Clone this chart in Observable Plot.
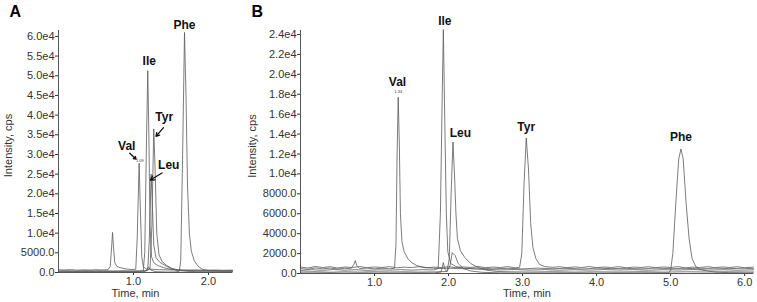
<!DOCTYPE html>
<html><head><meta charset="utf-8">
<script src="https://cdn.jsdelivr.net/npm/d3@7"></script>
<script src="https://cdn.jsdelivr.net/npm/@observablehq/plot@0.6"></script>
<style>
body{margin:0;background:#fff;}
#wrap{position:relative;width:757px;height:302px;background:#fff;}
#a{position:absolute;left:0;top:0;width:245px;}
#b{position:absolute;left:244px;top:0;width:513px;}
</style></head><body><div id="wrap"><div id="a"></div><div id="b"></div></div>
<script>
// ---------- Panel A data (time in min, intensity in cps) ----------
const valA = [[0.0,700],[0.08,650],[0.16,720],[0.25,600],[0.33,680],[0.42,620],[0.5,700],[0.58,640],[0.66,700],[0.69,1500],[0.71,7000],[0.72,10200],[0.735,6000],[0.75,2500],[0.78,1500],[0.83,1200],[0.9,900],[0.97,750],[1.03,800],[1.05,9000],[1.075,27800],[1.09,17000],[1.11,4000],[1.13,1500],[1.17,900],[1.25,800],[1.35,700],[1.5,650],[1.65,600],[1.8,650],[1.95,600],[2.1,620],[2.2,560],[2.32,600]];
const ileA = [[0.0,250],[0.1,300],[0.2,220],[0.3,280],[0.4,240],[0.5,300],[0.6,250],[0.7,290],[0.8,240],[0.9,300],[1.0,260],[1.08,300],[1.13,500],[1.15,5000],[1.17,30000],[1.19,51300],[1.205,35000],[1.22,12000],[1.24,4000],[1.27,2500],[1.32,1800],[1.4,1200],[1.5,800],[1.6,600],[1.75,450],[1.9,380],[2.05,350],[2.2,320],[2.32,300]];
const leuA = [[0.0,100],[0.15,120],[0.3,90],[0.45,130],[0.6,100],[0.75,120],[0.9,100],[1.05,130],[1.15,200],[1.19,800],[1.21,8000],[1.235,25000],[1.25,18000],[1.27,7000],[1.3,3800],[1.35,2600],[1.42,1800],[1.5,1000],[1.6,500],[1.75,250],[1.9,150],[2.1,120],[2.32,100]];
const tyrA = [[0.0,400],[0.12,450],[0.24,380],[0.36,460],[0.48,400],[0.6,440],[0.72,380],[0.84,450],[0.96,400],[1.08,430],[1.18,450],[1.22,1000],[1.245,12000],[1.27,36500],[1.29,25000],[1.31,10000],[1.34,4500],[1.38,2800],[1.44,1800],[1.52,1000],[1.6,650],[1.75,480],[1.9,420],[2.05,460],[2.2,400],[2.32,430]];
const pheA = [[0.0,50],[0.2,60],[0.4,40],[0.6,70],[0.8,50],[1.0,60],[1.12,80],[1.17,600],[1.2,1400],[1.23,600],[1.3,200],[1.45,120],[1.55,150],[1.61,300],[1.63,3000],[1.655,30000],[1.68,61000],[1.7,45000],[1.72,22000],[1.745,10000],[1.77,5500],[1.81,3000],[1.86,1600],[1.92,800],[2.0,500],[2.1,400],[2.2,450],[2.32,420]];
const labelsA = [{name:"Phe",t:1.68,v:62800},{name:"Ile",t:1.21,v:53600},{name:"Tyr",t:1.41,v:39400},{name:"Val",t:0.91,v:32000},{name:"Leu",t:1.47,v:27400}];
const arrowsA = [{t1:1.40,v1:36800,t2:1.30,v2:34600},{t1:0.95,v1:30300,t2:1.035,v2:28800},{t1:1.38,v1:25300,t2:1.225,v2:23500}];
const tinyA = [{name:"1.09",t:1.085,v:28300}];
const xTicksA = [1.0, 2.0];
const yTicksA = [0,5000,10000,15000,20000,25000,30000,35000,40000,45000,50000,55000,60000];

// ---------- Panel B data ----------
const valB = [[0.0,500],[0.1,420],[0.2,560],[0.3,470],[0.4,540],[0.5,450],[0.6,520],[0.68,480],[0.72,900],[0.74,1300],[0.76,800],[0.8,500],[0.9,540],[1.0,470],[1.1,530],[1.2,480],[1.27,520],[1.29,3000],[1.305,12000],[1.32,17700],[1.335,13000],[1.35,6000],[1.37,3200],[1.4,2200],[1.45,1500],[1.5,1100],[1.57,800],[1.65,650],[1.75,560],[1.85,500],[2.0,530],[2.2,480],[2.4,540],[2.6,470],[2.8,520],[3.0,460],[3.2,540],[3.4,480],[3.6,520],[3.8,450],[4.0,540],[4.2,490],[4.4,520],[4.6,460],[4.8,540],[5.0,480],[5.2,520],[5.4,470],[5.6,540],[5.8,490],[6.0,530],[6.12,480]];
const ileB = [[0.0,300],[0.15,380],[0.3,320],[0.45,400],[0.6,330],[0.75,380],[0.9,310],[1.05,370],[1.2,330],[1.35,390],[1.5,340],[1.65,380],[1.8,350],[1.86,500],[1.89,6000],[1.915,18000],[1.93,24500],[1.95,15000],[1.97,6000],[1.99,2200],[2.03,1000],[2.1,700],[2.2,550],[2.35,450],[2.5,400],[2.7,360],[2.9,400],[3.1,340],[3.3,390],[3.5,330],[3.7,380],[3.9,340],[4.1,400],[4.3,350],[4.5,390],[4.7,330],[4.9,380],[5.1,350],[5.3,400],[5.5,340],[5.7,380],[5.9,330],[6.12,370]];
const leuB = [[0.0,150],[0.2,180],[0.4,130],[0.6,170],[0.8,140],[1.0,180],[1.2,150],[1.4,170],[1.6,140],[1.8,160],[1.98,200],[2.01,1500],[2.035,8000],[2.06,13200],[2.08,10000],[2.1,6000],[2.12,3500],[2.16,2300],[2.22,1600],[2.3,1000],[2.4,600],[2.5,350],[2.65,200],[2.85,170],[3.1,150],[3.4,180],[3.7,140],[4.0,170],[4.3,150],[4.6,180],[4.9,140],[5.2,170],[5.5,150],[5.8,170],[6.12,150]];
const tyrB = [[0.0,650],[0.1,550],[0.2,700],[0.3,600],[0.4,680],[0.5,560],[0.6,650],[0.7,600],[0.8,700],[0.9,580],[1.0,660],[1.1,600],[1.2,690],[1.3,570],[1.4,640],[1.5,600],[1.6,680],[1.7,560],[1.8,640],[1.9,600],[2.0,680],[2.1,580],[2.2,660],[2.3,600],[2.4,700],[2.5,580],[2.6,650],[2.7,600],[2.8,690],[2.9,570],[2.96,620],[2.99,2000],[3.02,9000],[3.05,13600],[3.08,10500],[3.11,5000],[3.14,2600],[3.18,1500],[3.23,900],[3.3,700],[3.4,620],[3.5,680],[3.6,580],[3.7,660],[3.8,600],[3.9,700],[4.0,580],[4.1,650],[4.2,600],[4.3,690],[4.4,570],[4.5,650],[4.6,600],[4.7,680],[4.8,580],[4.9,660],[5.0,600],[5.1,690],[5.2,570],[5.3,640],[5.4,600],[5.5,690],[5.6,580],[5.7,660],[5.8,600],[5.9,680],[6.0,580],[6.12,640]];
const pheB = [[0.0,40],[0.3,60],[0.6,30],[0.9,50],[1.2,40],[1.5,60],[1.8,50],[1.9,150],[1.93,1100],[1.95,400],[1.98,200],[2.02,800],[2.05,2100],[2.09,1800],[2.13,1000],[2.2,500],[2.3,250],[2.45,120],[2.7,60],[3.0,40],[3.5,60],[4.0,40],[4.5,60],[4.97,60],[5.0,300],[5.03,2000],[5.07,7000],[5.11,11500],[5.14,12500],[5.17,11500],[5.21,7000],[5.25,3500],[5.29,1500],[5.34,700],[5.4,400],[5.5,250],[5.6,150],[5.8,80],[6.0,60],[6.12,50]];
const labelsB = [{name:"Val",t:1.31,v:19200},{name:"Ile",t:1.95,v:25300},{name:"Leu",t:2.16,v:14100},{name:"Tyr",t:3.05,v:14700},{name:"Phe",t:5.14,v:13700}];
const tinyB = [{name:"1.34",t:1.32,v:18300}];
const xTicksB = [1.0, 2.0, 3.0, 4.0, 5.0, 6.0];
const yTicksB = [0,2000,4000,6000,8000,10000,12000,14000,16000,18000,20000,22000,24000];

// ---------- drawing ----------
const FONT = "'Liberation Sans', Arial, sans-serif";
const fmtY = d => d < 10000 ? d.toFixed(1) : (d / 10000).toFixed(1) + "e4";

function panel(o) {
  const rows = o.traces.flatMap(([name, pts]) => pts.map(([t, v]) => ({name, t, v})));
  return Plot.plot({
    width: o.width, height: 302,
    marginLeft: o.marginLeft, marginRight: o.marginRight, marginTop: 30, marginBottom: o.marginBottom,
    style: {fontFamily: FONT, fontSize: "11px", color: "#333", background: "white"},
    x: {domain: o.xDomain, ticks: o.xTicks, tickFormat: d => d.toFixed(1), tickSize: 3, tickPadding: 2, label: null},
    y: {domain: o.yDomain, ticks: o.yTicks, tickFormat: fmtY, tickSize: 3, tickPadding: 1, label: null},
    marks: [
      Plot.line(rows, {x: "t", y: "v", z: "name", stroke: "#5a5a5a", strokeWidth: 0.8}),
      Plot.ruleX([o.xDomain[0]], {stroke: "#555"}),
      Plot.ruleY([0], {stroke: "#555"}),
      Plot.text(o.labels, {x: "t", y: "v", text: "name", fontWeight: "bold", fontSize: 12, fill: "#111", fontFamily: FONT}),
      Plot.text(o.tiny, {x: "t", y: "v", text: "name", fontSize: 4, fill: "#333"}),
      ...(o.arrows ? [Plot.arrow(o.arrows, {x1: "t1", y1: "v1", x2: "t2", y2: "v2", stroke: "#111", strokeWidth: 1.3, headLength: 8})] : []),
      Plot.text(["Time, min"], {text: d => d, frameAnchor: "bottom", dx: o.xLabelDx, dy: o.xLabelDy, textAnchor: "middle", lineAnchor: "middle", fill: "#333"}),
      Plot.text(["Intensity, cps"], {text: d => d, frameAnchor: "left", dx: o.yLabelDx, dy: -6, rotate: -90, textAnchor: "middle", lineAnchor: "middle", fill: "#333"}),
      Plot.text([o.letter], {text: d => d, frameAnchor: "top-left", dx: o.letterDx, dy: -19, textAnchor: "start", lineAnchor: "middle", fontSize: 16, fontWeight: "bold", fill: "#000"})
    ]
  });
}

document.getElementById("a").append(panel({
  traces: [["Val", valA], ["Ile", ileA], ["Leu", leuA], ["Tyr", tyrA], ["Phe", pheA]],
  width: 245, marginLeft: 58, marginRight: 13, marginBottom: 30,
  xDomain: [0, 2.32], yDomain: [0, 61500], xTicks: xTicksA, yTicks: yTicksA,
  labels: labelsA, arrows: arrowsA, tiny: tinyA,
  xLabelDx: -10, xLabelDy: 21, yLabelDx: -50, letter: "A", letterDx: -49
}));
document.getElementById("b").append(panel({
  traces: [["Val", valB], ["Ile", ileB], ["Leu", leuB], ["Tyr", tyrB], ["Phe", pheB]],
  width: 513, marginLeft: 56, marginRight: 4, marginBottom: 29,
  xDomain: [0, 6.12], yDomain: [0, 24400], xTicks: xTicksB, yTicks: yTicksB,
  labels: labelsB, arrows: null, tiny: tinyB,
  xLabelDx: 0, xLabelDy: 20, yLabelDx: -48, letter: "B", letterDx: -49
}));
</script>
</body></html>
